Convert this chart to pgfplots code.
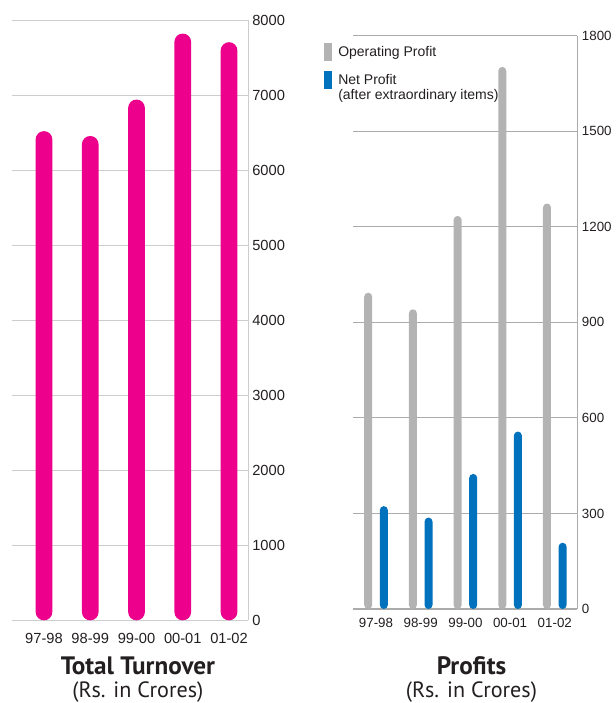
\documentclass[border=0pt]{standalone}
\usepackage{fontspec}
\setmainfont{Liberation Sans}
\newfontfamily\titlefont{PT Sans}
\usepackage{pgfplots}
\pgfplotsset{compat=1.18}
\definecolor{pinkbar}{HTML}{EC008C}
\definecolor{graybar}{HTML}{B3B3B3}
\definecolor{bluebar}{HTML}{0071BC}
\definecolor{lgrid}{HTML}{CDCDCD}
\definecolor{rgrid}{HTML}{ABABAB}
\definecolor{txt}{HTML}{231F20}
\begin{document}
\begin{tikzpicture}[x=1pt,y=1pt]
\path[use as bounding box] (0,0) rectangle (461.25,527.25);
% ---------------- Total Turnover ----------------
\begin{axis}[
  at={(8.78pt,62pt)}, anchor=south west,
  scale only axis, width=177.45pt, height=450.2pt,
  xmin=-0.698, xmax=4.417, ymin=0, ymax=8000,
  axis x line*=bottom, axis y line*=right,
  axis line style={draw=lgrid, line width=0.8pt, -},
  ymajorgrids, grid style={draw=lgrid, line width=0.8pt},
  ytick={0,1000,...,8000}, yticklabel pos=right,
  xtick={0,1,2,3,4}, xticklabels={97-98,98-99,99-00,00-01,01-02},
  tick style={draw=none}, major tick length=0pt,
  scaled y ticks=false,
  /pgf/number format/set thousands separator={},
  /pgf/number format/assume math mode=true,
  ticklabel style={font=\fontsize{11}{13}\selectfont, text=txt},
  yticklabel style={anchor=west, inner sep=0pt, xshift=2.8pt},
  xticklabel style={anchor=north, inner sep=0pt, yshift=-9.5pt},
  clip=false,
]
\addplot[ybar, bar width=12.5pt, fill=pinkbar, draw=none, rounded corners=6.2pt, bar shift=0pt]
  coordinates {(0,6520) (1,6455) (2,6940) (3,7820) (4,7705)};
\end{axis}
% ---------------- Profits ----------------
\begin{axis}[
  at={(264.75pt,70.5pt)}, anchor=south west,
  scale only axis, width=168.2pt, height=430pt,
  xmin=-0.515, xmax=4.503, ymin=0, ymax=1800,
  axis x line*=bottom, axis y line*=right,
  axis line style={draw=rgrid, line width=0.8pt, -},
  ymajorgrids, grid style={draw=rgrid, line width=0.8pt},
  ytick={0,300,...,1800}, yticklabel pos=right,
  xtick={0,1,2,3,4}, xticklabels={97-98,98-99,99-00,00-01,01-02},
  tick style={draw=none}, major tick length=0pt,
  scaled y ticks=false,
  /pgf/number format/set thousands separator={},
  /pgf/number format/assume math mode=true,
  ticklabel style={font=\fontsize{10}{12}\selectfont, text=txt},
  yticklabel style={anchor=west, inner sep=0pt, xshift=3.3pt},
  xticklabel style={anchor=north, inner sep=0pt, yshift=-7pt},
  ybar=5.7pt, bar width=6pt,
  legend image code/.code={\fill[#1, sharp corners] (0pt,0pt) rectangle (6pt,13.3pt);},
  legend style={at={(axis description cs:-0.1293,0.9873)}, anchor=north west,
    draw=none, fill=none, inner sep=0pt,
    font=\fontsize{10.5}{11.25}\selectfont, text=txt,
    nodes={inner sep=0pt}, cells={anchor=base west}, column sep=4.5pt, row sep=6.2pt},
  clip=false,
]
\addplot[fill=graybar, draw=none, rounded corners=3pt]
  coordinates {(0,993) (1,941) (2,1234) (3,1702) (4,1273)};
\addlegendentry{\raisebox{3.3pt}{Operating Profit}}
\addplot[fill=bluebar, draw=none, rounded corners=3pt]
  coordinates {(0,323) (1,287) (2,424) (3,557) (4,208)};
\addlegendentry{\raisebox{3pt}{\begin{tabular}[t]{@{}l@{}}Net Profit\\(after extraordinary items)\end{tabular}}}
\end{axis}
% ---------------- Titles ----------------
\node[anchor=base, text=txt, font=\titlefont\bfseries\fontsize{18.9}{20}\selectfont] at (103.4,21) {Total Turnover};
\node[anchor=base, text=txt, font=\titlefont\fontsize{16.6}{18}\selectfont] at (103.4,4.5) {(Rs. in Crores)};
\node[anchor=base, text=txt, font=\titlefont\bfseries\fontsize{18.9}{20}\selectfont] at (353.6,21) {Profits};
\node[anchor=base, text=txt, font=\titlefont\fontsize{16.6}{18}\selectfont] at (353.6,4.5) {(Rs. in Crores)};
\end{tikzpicture}
\end{document}
